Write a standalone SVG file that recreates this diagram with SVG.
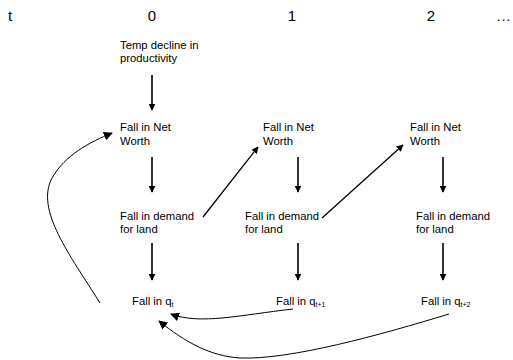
<svg xmlns="http://www.w3.org/2000/svg" width="513" height="360" viewBox="0 0 513 360">
<style>
text{font-family:"Liberation Sans",Arial,sans-serif;fill:#000}
.h{font-size:15px}
.n{font-size:11.3px}
.s{font-size:7px}
.v{stroke:#000;stroke-width:1.6;fill:none}
.d{stroke:#000;stroke-width:1.3;fill:none}
.c{stroke:#000;stroke-width:1;fill:none}
</style>
<defs>
<marker id="a" viewBox="0 0 10 10" refX="9" refY="5" markerWidth="7" markerHeight="7" markerUnits="userSpaceOnUse" orient="auto"><path d="M0,0L10,5L0,10z" fill="#000"/></marker>
<marker id="b" viewBox="0 0 10 10" refX="9" refY="5" markerWidth="9" markerHeight="9" markerUnits="userSpaceOnUse" orient="auto"><path d="M0,0L10,5L0,10z" fill="#000"/></marker>
</defs>
<g id="header">
<text class="h" x="8" y="21">t</text>
<text class="h" x="152" y="21" text-anchor="middle">0</text>
<text class="h" x="292" y="21" text-anchor="middle">1</text>
<text class="h" x="431" y="21" text-anchor="middle">2</text>
<text class="h" x="496" y="21">…</text>
</g>
<g id="temp"><text class="n" x="120" y="49">Temp decline in</text><text class="n" x="120" y="62">productivity</text></g>
<g id="nw0"><text class="n" x="120" y="131">Fall in Net</text><text class="n" x="120" y="145">Worth</text></g>
<g id="nw1"><text class="n" x="263" y="131">Fall in Net</text><text class="n" x="263" y="145">Worth</text></g>
<g id="nw2"><text class="n" x="410" y="131">Fall in Net</text><text class="n" x="410" y="145">Worth</text></g>
<g id="dl0"><text class="n" x="120" y="220">Fall in demand</text><text class="n" x="120" y="233">for land</text></g>
<g id="dl1"><text class="n" x="245" y="220">Fall in demand</text><text class="n" x="245" y="233">for land</text></g>
<g id="dl2"><text class="n" x="416" y="220">Fall in demand</text><text class="n" x="416" y="233">for land</text></g>
<g id="q0"><text class="n" x="132" y="305">Fall in q<tspan class="s" dy="2">t</tspan></text></g>
<g id="q1"><text class="n" x="276" y="305">Fall in q<tspan class="s" dy="2">t+1</tspan></text></g>
<g id="q2"><text class="n" x="421" y="305">Fall in q<tspan class="s" dy="2">t+2</tspan></text></g>
<g id="connectors">
<path class="v" d="M152,75V110" marker-end="url(#a)"/>
<path class="v" d="M152,157V192" marker-end="url(#a)"/>
<path class="v" d="M298,157V192" marker-end="url(#a)"/>
<path class="v" d="M443,157V192" marker-end="url(#a)"/>
<path class="v" d="M152,243V280" marker-end="url(#a)"/>
<path class="v" d="M298,243V280" marker-end="url(#a)"/>
<path class="v" d="M443,243V280" marker-end="url(#a)"/>
<path class="d" d="M203,217L258,147" marker-end="url(#a)"/>
<path class="d" d="M322,218L403,145" marker-end="url(#a)"/>
<path class="c" d="M100,303C70,255 35,210 52,178C65,155 90,142 112,133" marker-end="url(#b)"/>
<path class="c" d="M293,309C240,315 200,325 171,314" marker-end="url(#b)"/>
<path class="c" d="M449,314C380,335 290,360 240,358C210,356 185,342 159,321" marker-end="url(#b)"/>
</g>
</svg>
